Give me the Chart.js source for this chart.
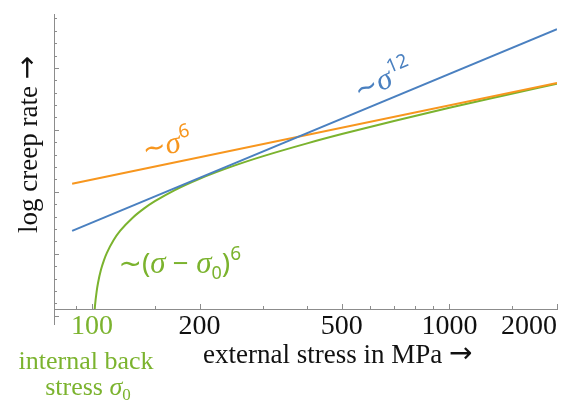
<!DOCTYPE html>
<html>
<head>
<meta charset="utf-8">
<script src="https://cdn.jsdelivr.net/npm/chart.js@4.4.0/dist/chart.umd.min.js"></script>
<style>
  html, body { margin: 0; padding: 0; background: #fff; }
  #wrap { width: 580px; height: 401px; }
</style>
</head>
<body>
<div id="wrap"><canvas id="creep" width="580" height="401"></canvas></div>
<script>
// ============ data (x: stress in MPa, y: log creep rate, arbitrary decades) ============
const stressEnds = [88, 2000];
const rateSigma12 = [-8.16, 8.12];
const rateSigma6 = [-4.35, 3.79];

const stressBack = [101.8, 102, 103, 104, 106, 108, 110, 115, 120, 130, 140, 150, 170, 200, 250, 300, 400, 500, 700, 1000, 1400, 2000];
const rateBack = [-14.46, -14.14, -13.09, -12.34, -11.28, -10.53, -9.95, -8.89, -8.14, -7.09, -6.34, -5.76, -4.88, -3.95, -2.89, -2.14, -1.09, -0.34, 0.72, 1.78, 2.73, 3.72];

const xTickValues = [90, 100, 150, 200, 300, 400, 500, 600, 700, 800, 900, 1000, 1500, 2000];
const xTickLabels = [100, 200, 500, 1000, 2000];
const yTickValues = [-15, -14, -13, -12, -11, -10, -9, -8, -7, -6, -5, -4, -3, -2, -1, 0, 1, 2, 3, 4, 5, 6, 7, 8, 9];
const yMajorTicks = [-15, -10, -5, 0, 5];

const BLUE = "#4a80c0";
const ORANGE = "#f7961e";
const GREEN = "#7bb32e";
const AXIS = "#8c8c8c";

const pts = (xs, ys) => xs.map((x, i) => ({ x, y: ys[i] }));

// 曲线旁的标注
const SANS = "'Noto Sans'";
const TILDE = "28px 'DejaVu Sans'";
const SIG = "italic 31px 'Liberation Serif'";
const curveNotes = [
  { at: [653, 4.0], along: [stressEnds, rateSigma12], color: BLUE,
    parts: [["~", TILDE, 0], ["σ", SIG, 0], ["12", "19px " + SANS, -13]] },
  { at: [162, -1.23], along: [stressEnds, rateSigma6], color: ORANGE,
    parts: [["~", TILDE, 0], ["σ", SIG, 0], ["6", "19px " + SANS, -13]] },
  { at: [176, -10.83], along: null, color: GREEN,
    parts: [["~", TILDE, 0], ["(", "28px " + SANS, 0], ["σ", SIG, 0], [" − ", "28px " + SANS, 0],
            ["σ", SIG, 0], ["0", "18px " + SANS, 6], [")", "28px " + SANS, 0], ["6", "19px " + SANS, -13]] }
];

function richText(ctx, parts, cx, cy, angle, color) {
  ctx.save();
  ctx.translate(cx, cy);
  ctx.rotate(angle);
  ctx.fillStyle = color;
  ctx.textAlign = "left";
  ctx.textBaseline = "alphabetic";
  let w = 0;
  parts.forEach(p => { ctx.font = p[1]; w += ctx.measureText(p[0]).width; });
  let xx = -w / 2;
  parts.forEach(p => {
    ctx.font = p[1];
    ctx.fillText(p[0], xx, 9 + p[2]);
    xx += ctx.measureText(p[0]).width;
  });
  ctx.restore();
}

function seg(ctx, x1, y1, x2, y2) {
  ctx.beginPath(); ctx.moveTo(x1, y1); ctx.lineTo(x2, y2); ctx.stroke();
}

function richTextAt(ctx, parts, cx, base, color) {
  ctx.save();
  ctx.fillStyle = color;
  ctx.textAlign = "left";
  ctx.textBaseline = "alphabetic";
  let w = 0;
  parts.forEach(p => { ctx.font = p[1]; w += ctx.measureText(p[0]).width; });
  let xx = cx - w / 2;
  parts.forEach(p => { ctx.font = p[1]; ctx.fillText(p[0], xx, base + p[2]); xx += ctx.measureText(p[0]).width; });
  ctx.restore();
}

// 内向刻度、标题、注释
const decor = {
  id: "decor",
  afterDraw(chart) {
    const { ctx, chartArea: a, scales: { x, y } } = chart;
    ctx.save();
    ctx.strokeStyle = AXIS;
    ctx.lineWidth = 1;
    xTickValues.forEach(v => {
      const px = Math.round(x.getPixelForValue(v)) + 0.5;
      seg(ctx, px, a.bottom, px, a.bottom - (xTickLabels.includes(v) ? 5 : 3));
    });
    yTickValues.forEach(v => {
      const py = Math.round(y.getPixelForValue(v)) + 0.5;
      seg(ctx, a.left, py, a.left + (yMajorTicks.includes(v) ? 5 : 3), py);
    });
    // y axis runs a bit below the x axis
    seg(ctx, a.left + 0.5, a.bottom, a.left + 0.5, a.bottom + 16);

    curveNotes.forEach(n => {
      let ang = 0;
      if (n.along) {
        const p1 = [x.getPixelForValue(n.along[0][0]), y.getPixelForValue(n.along[1][0])];
        const p2 = [x.getPixelForValue(n.along[0][1]), y.getPixelForValue(n.along[1][1])];
        ang = Math.atan2(p2[1] - p1[1], p2[0] - p1[0]);
      }
      richText(ctx, n.parts, x.getPixelForValue(n.at[0]), y.getPixelForValue(n.at[1]), ang, n.color);
    });

    // axis titles
    const SERIF = "26px 'Liberation Serif'";
    const ARROW = "28px 'DejaVu Sans'";
    ctx.fillStyle = "#111";
    ctx.textBaseline = "alphabetic";
    ctx.font = "27px 'Liberation Serif'";
    ctx.textAlign = "left";
    const xt = "external stress in MPa ";
    ctx.fillText(xt, 203, 363);
    const xw = ctx.measureText(xt).width;
    ctx.font = ARROW;
    ctx.fillText("→", 203 + xw, 362);

    ctx.save();
    ctx.translate(37, 233);
    ctx.rotate(-Math.PI / 2);
    ctx.textAlign = "left";
    ctx.font = "27px 'Liberation Serif'";
    const yt = "log creep rate ";
    ctx.fillText(yt, 0, 0);
    const yw = ctx.measureText(yt).width;
    ctx.font = ARROW;
    ctx.fillText("→", yw, -1);
    ctx.restore();

    // σ0 note under 100
    ctx.fillStyle = GREEN;
    ctx.textAlign = "center";
    ctx.font = SERIF;
    ctx.fillText("internal back", 86, 369);
    richTextAt(ctx, [["stress ", SERIF, 0], ["σ", "italic 26px 'Liberation Serif'", 0], ["0", "17px 'Liberation Serif'", 5]], 88, 395, GREEN);
    ctx.restore();
  }
};

const line = (data, color) => ({
  data, borderColor: color, borderWidth: 2, pointRadius: 0, fill: false,
  cubicInterpolationMode: "monotone"
});

new Chart(document.getElementById("creep"), {
  type: "line",
  data: {
    datasets: [
      line(pts(stressEnds, rateSigma12), BLUE),
      line(pts(stressEnds, rateSigma6), ORANGE),
      line(pts(stressBack, rateBack), GREEN)
    ]
  },
  options: {
    responsive: false,
    animation: false,
    devicePixelRatio: 1,
    layout: { padding: { top: 14, right: 23, left: 0, bottom: 0 } },
    plugins: { legend: { display: false }, tooltip: { enabled: false } },
    scales: {
      x: {
        type: "logarithmic",
        position: "bottom",
        min: 78.3,
        max: 2000,
        afterBuildTicks: s => { s.ticks = xTickValues.map(v => ({ value: v, major: xTickLabels.includes(v) })); },
        afterFit: s => { s.height = 92; },
        grid: { drawOnChartArea: false, drawTicks: false, color: "rgba(0,0,0,0)" },
        border: { display: true, color: AXIS, width: 1 },
        ticks: {
          autoSkip: false,
          maxRotation: 0,
          align: "inner",
          padding: 1,
          font: { family: "Liberation Serif", size: 28 },
          color: c => (c.tick && c.tick.value === 100 ? GREEN : "#111"),
          callback: v => (xTickLabels.includes(v) ? String(v) : "")
        }
      },
      y: {
        type: "linear",
        position: "left",
        min: -14.46,
        max: 9.35,
        afterFit: s => { s.width = 54; },
        grid: { drawOnChartArea: false, drawTicks: false, color: "rgba(0,0,0,0)" },
        border: { display: true, color: AXIS, width: 1 },
        ticks: { display: false }
      }
    }
  },
  plugins: [decor]
});
</script>
</body>
</html>
